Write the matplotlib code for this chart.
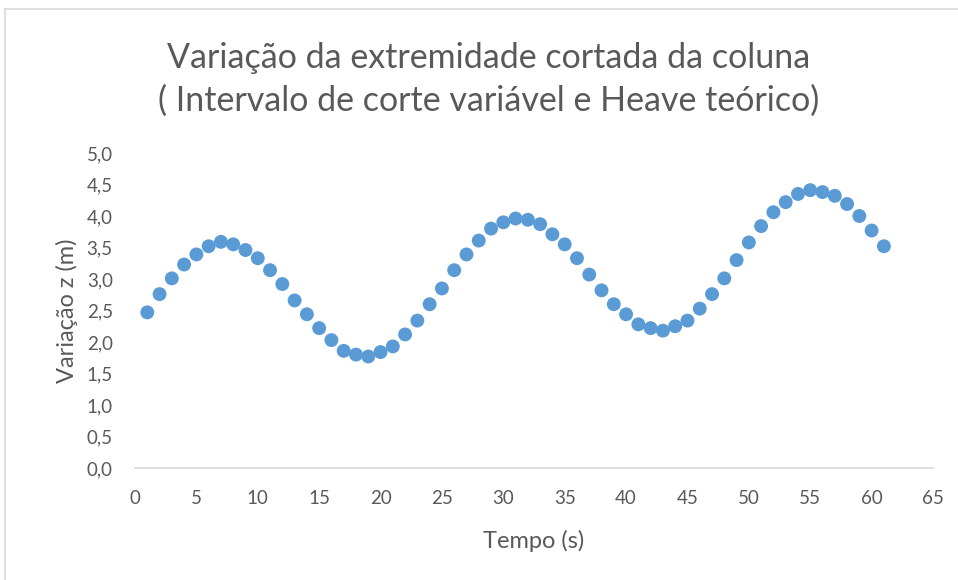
import matplotlib
matplotlib.use("Agg")
import matplotlib.pyplot as plt
from matplotlib.lines import Line2D
from matplotlib.ticker import FuncFormatter

plt.rcParams['font.family'] = ['Lato', 'DejaVu Sans']

# dados
tempo = list(range(1, 62))
variacao_z = [
    2.47, 2.76, 3.01, 3.23, 3.39, 3.52, 3.59, 3.55, 3.46, 3.33,
    3.14, 2.92, 2.66, 2.44, 2.22, 2.03, 1.86, 1.80, 1.77, 1.84,
    1.93, 2.12, 2.34, 2.60, 2.85, 3.14, 3.39, 3.61, 3.80, 3.90,
    3.96, 3.94, 3.87, 3.71, 3.55, 3.33, 3.07, 2.82, 2.60, 2.44,
    2.28, 2.22, 2.18, 2.25, 2.34, 2.53, 2.76, 3.01, 3.30, 3.58,
    3.84, 4.06, 4.22, 4.35, 4.41, 4.38, 4.32, 4.19, 4.00, 3.77,
    3.52,
]
x_ticks = list(range(0, 70, 5))
y_ticks = [0.0, 0.5, 1.0, 1.5, 2.0, 2.5, 3.0, 3.5, 4.0, 4.5, 5.0]

cinza = '#595959'

fig = plt.figure(figsize=(9.58, 5.8), dpi=100)
ax = fig.add_axes([135 / 958, 1 - 468 / 580, 798 / 958, 315 / 580])

ax.scatter(tempo, variacao_z, s=100, color='#5B9BD5', edgecolors='none', zorder=3)

ax.set_xlim(0, 65)
ax.set_ylim(0, 5)
ax.set_xticks(x_ticks)
ax.set_yticks(y_ticks)
ax.yaxis.set_major_formatter(FuncFormatter(lambda v, p: f'{v:.1f}'.replace('.', ',')))

for s in ['top', 'right', 'left']:
    ax.spines[s].set_visible(False)
ax.spines['bottom'].set_color('#d9d9d9')
ax.spines['bottom'].set_linewidth(1.2)
ax.tick_params(length=0, labelsize=13.5, colors=cinza)
ax.tick_params(axis='y', pad=16)
ax.tick_params(axis='x', pad=16)

ax.set_xlabel('Tempo (s)', fontsize=17, color=cinza, labelpad=16)
ax.set_ylabel('Variação z (m)', fontsize=17, color=cinza, labelpad=6)

fig.text(0.5104, 1 - 58 / 580, 'Variação da extremidade cortada da coluna',
         ha='center', va='center', fontsize=24.5, color=cinza)
fig.text(0.5104, 1 - 101 / 580, '( Intervalo de corte variável e Heave teórico)',
         ha='center', va='center', fontsize=24.5, color=cinza)

# moldura do gráfico (cortada à direita e embaixo)
fig.add_artist(Line2D([5 / 958, 1], [1 - 9 / 580, 1 - 9 / 580], color='#d9d9d9', lw=1.2))
fig.add_artist(Line2D([5 / 958, 5 / 958], [0, 1 - 9 / 580], color='#d9d9d9', lw=1.2))

plt.savefig('out.png', dpi=100)
